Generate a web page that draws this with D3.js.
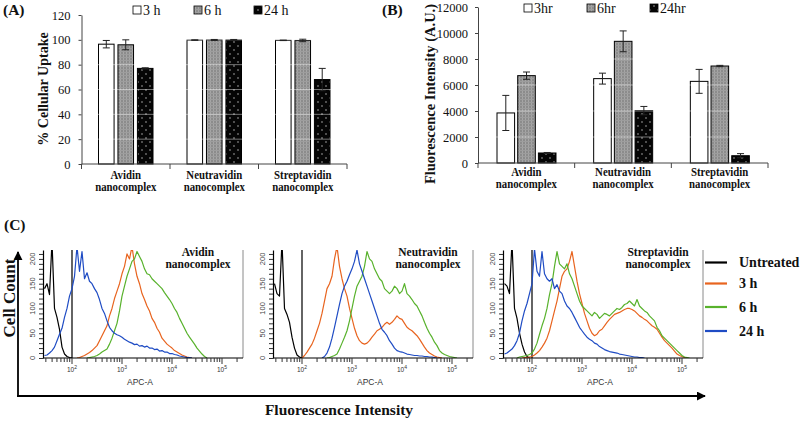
<!DOCTYPE html>
<html><head><meta charset="utf-8">
<script src="https://cdn.jsdelivr.net/npm/d3@7"></script>
<style>body{margin:0;background:#fff}svg{display:block}</style>
</head><body>
<svg id="c" width="800" height="421"></svg>
<script>
// ---------- Bar chart data ----------
const categories = ["Avidin", "Neutravidin", "Streptavidin"];
const uptakeSeries = ["3 h", "6 h", "24 h"];
const uptakeValues = [[96.5, 96, 77], [99.8, 99.9, 99.9], [99.6, 99.5, 68]];
const uptakeErrors = [[3, 4, 0.5], [0.2, 0.4, 0.4], [0.2, 1, 9]];
const uptakeTicks = [0, 20, 40, 60, 80, 100, 120];
const fluorSeries = ["3hr", "6hr", "24hr"];
const fluorValues = [[3850, 6720, 770], [6490, 9360, 4030], [6280, 7460, 560]];
const fluorErrors = [[1350, 280, 40], [420, 800, 320], [920, 50, 160]];
const fluorTicks = [0, 2000, 4000, 6000, 8000, 10000, 12000];

// ---------- Flow histogram data (log10 APC-A bins, step 0.05) ----------
const histPanels = ["Avidin", "Neutravidin", "Streptavidin"];
const histGroups = ["Untreated", "3 h", "6 h", "24 h"];
const histColors = ["#000000", "#e8641f", "#58b22c", "#1f4cc4"];
const histStep = 0.05;
const histYTicks = [0, 50, 100, 150, 200];
const histXTicks = [100, 1000, 10000, 100000];

const avidinUntreated = {start: 1.45, counts: [140, 150, 128, 235, 100, 82, 58, 22, 8, 3, 1, 0]};
const avidin3h = {start: 2.1, counts: [0, 1, 3, 5, 8, 11, 15, 20, 25, 35, 45, 55, 65, 85, 100, 120, 135, 150, 170, 185, 210, 200, 225, 190, 165, 150, 130, 118, 105, 95, 80, 72, 60, 52, 40, 34, 28, 24, 20, 15, 12, 9, 6, 4, 2, 1, 0]};
const avidin6h = {start: 2.3, counts: [0, 1, 2, 3, 5, 8, 12, 15, 18, 28, 40, 55, 70, 95, 125, 145, 165, 180, 195, 200, 215, 205, 195, 180, 170, 168, 160, 155, 150, 145, 140, 132, 125, 118, 110, 100, 92, 80, 70, 60, 50, 42, 35, 28, 20, 14, 8, 3, 0]};
const avidin24h = {start: 1.45, counts: [5, 6, 10, 15, 22, 35, 48, 60, 82, 100, 125, 140, 165, 225, 175, 215, 160, 172, 155, 150, 140, 132, 118, 100, 90, 75, 62, 55, 50, 47, 45, 42, 38, 35, 32, 30, 27, 28, 24, 25, 22, 24, 20, 20, 17, 18, 14, 15, 12, 12, 9, 9, 7, 6, 4, 3, 2, 1, 1, 0]};

const neutraUntreated = {start: 1.45, counts: [150, 130, 125, 235, 100, 88, 72, 42, 20, 6, 2, 0]};
const neutra3h = {start: 2.0, counts: [0, 5, 12, 20, 28, 40, 55, 70, 90, 115, 140, 150, 165, 200, 225, 185, 160, 140, 125, 100, 80, 60, 45, 35, 30, 28, 30, 35, 42, 48, 55, 58, 62, 68, 72, 68, 72, 78, 85, 80, 78, 70, 62, 58, 55, 50, 45, 38, 30, 22, 15, 10, 7, 4, 2, 1, 0]};
const neutra6h = {start: 2.5, counts: [0, 1, 3, 5, 8, 18, 30, 42, 55, 75, 100, 125, 145, 155, 165, 185, 215, 200, 195, 180, 170, 160, 155, 140, 135, 130, 135, 145, 140, 130, 135, 150, 130, 125, 118, 110, 105, 95, 85, 72, 60, 50, 42, 32, 25, 15, 10, 7, 5, 3, 2, 1, 0]};
const neutra24h = {start: 2.4, counts: [0, 3, 10, 22, 40, 62, 85, 108, 130, 145, 155, 168, 180, 195, 218, 190, 175, 160, 145, 130, 115, 100, 85, 70, 58, 52, 45, 35, 28, 20, 15, 13, 12, 10, 8, 7, 6, 5, 5, 4, 4, 3, 3, 2, 2, 1, 0]};

const streptUntreated = {start: 1.45, counts: [150, 145, 130, 235, 100, 80, 50, 28, 12, 3, 0]};
const strept3h = {start: 1.8, counts: [0, 1, 1, 2, 3, 6, 10, 15, 22, 30, 40, 55, 75, 95, 115, 140, 165, 175, 180, 195, 215, 185, 155, 130, 110, 90, 75, 60, 50, 45, 48, 55, 58, 65, 72, 78, 83, 88, 90, 92, 95, 98, 100, 100, 98, 95, 90, 85, 82, 78, 75, 70, 65, 62, 58, 50, 42, 35, 30, 25, 20, 14, 8, 5, 3, 1, 0]};
const strept6h = {start: 1.7, counts: [0, 2, 3, 4, 5, 7, 10, 18, 30, 48, 65, 80, 100, 128, 150, 185, 215, 190, 185, 180, 190, 170, 160, 145, 130, 115, 105, 100, 95, 90, 85, 92, 88, 80, 85, 90, 88, 85, 90, 95, 100, 98, 102, 108, 110, 115, 110, 105, 118, 105, 100, 95, 92, 85, 80, 75, 62, 55, 45, 40, 35, 30, 25, 20, 15, 10, 5, 2, 1, 0]};
const strept24h = {start: 1.45, counts: [8, 10, 14, 18, 25, 35, 50, 75, 95, 110, 130, 150, 220, 175, 165, 215, 170, 160, 155, 160, 140, 148, 135, 130, 115, 105, 100, 92, 82, 72, 62, 55, 48, 42, 38, 35, 30, 28, 23, 20, 17, 15, 13, 12, 11, 10, 8, 7, 6, 5, 4, 3, 2, 2, 1, 1, 0]};

const histData = [
  [avidinUntreated, avidin3h, avidin6h, avidin24h],
  [neutraUntreated, neutra3h, neutra6h, neutra24h],
  [streptUntreated, strept3h, strept6h, strept24h]
];

// ---------- Drawing ----------
const SERIF = "'Liberation Serif','Times New Roman',serif";
const SANS = "'Liberation Sans',Arial,sans-serif";
const svg = d3.select("#c");
svg.append("rect").attr("width", 800).attr("height", 421).attr("fill", "#fff");

const defs = svg.append("defs");
const p6 = defs.append("pattern").attr("id", "pat6").attr("width", 3).attr("height", 3).attr("patternUnits", "userSpaceOnUse");
p6.append("rect").attr("width", 3).attr("height", 3).attr("fill", "#8c8c8c");
p6.append("rect").attr("width", 1).attr("height", 3).attr("fill", "#a6a6a6");
p6.append("rect").attr("width", 3).attr("height", 1).attr("fill", "#9d9d9d");
const p24 = defs.append("pattern").attr("id", "pat24").attr("width", 8).attr("height", 8).attr("patternUnits", "userSpaceOnUse");
p24.append("rect").attr("width", 8).attr("height", 8).attr("fill", "#050505");
p24.append("circle").attr("cx", 2).attr("cy", 2).attr("r", 0.7).attr("fill", "#cfcfcf");
p24.append("circle").attr("cx", 6).attr("cy", 6).attr("r", 0.7).attr("fill", "#cfcfcf");
const barFills = ["#ffffff", "url(#pat6)", "url(#pat24)"];

function barPanel(cfg) {
  const g = svg.append("g");
  const x = d3.scaleBand().domain(categories).range(cfg.xr);
  const sub = d3.scaleBand().domain(cfg.series).range(cfg.subr).paddingInner(cfg.pad);
  const y = d3.scaleLinear().domain([0, cfg.ticks[cfg.ticks.length - 1]]).range(cfg.yr);

  categories.forEach((c, i) => {
    cfg.series.forEach((s, j) => {
      const v = cfg.values[i][j];
      g.append("rect")
        .attr("x", x(c) + sub(s)).attr("width", sub.bandwidth())
        .attr("y", y(v)).attr("height", y(0) - y(v))
        .attr("fill", barFills[j]).attr("stroke", "#000").attr("stroke-width", 1);
    });
  });
  cfg.ticks.slice(1).forEach(t => {
    g.append("line").attr("x1", cfg.xr[0]).attr("x2", cfg.xr[1]).attr("y1", y(t)).attr("y2", y(t))
      .attr("stroke", "#fff").attr("stroke-opacity", 0.45).attr("stroke-width", 1);
  });
  categories.forEach((c, i) => {
    cfg.series.forEach((s, j) => {
      const v = cfg.values[i][j], e = cfg.errors[i][j];
      const cx = x(c) + sub(s) + sub.bandwidth() / 2;
      const eg = g.append("g").attr("stroke", "#222").attr("stroke-width", 1);
      eg.append("line").attr("x1", cx).attr("x2", cx).attr("y1", y(v - e)).attr("y2", y(v + e));
      eg.append("line").attr("x1", cx - 3.5).attr("x2", cx + 3.5).attr("y1", y(v + e)).attr("y2", y(v + e));
      eg.append("line").attr("x1", cx - 3.5).attr("x2", cx + 3.5).attr("y1", y(v - e)).attr("y2", y(v - e));
    });
  });
  const ya = g.append("g").attr("transform", `translate(${cfg.xr[0]},0)`)
    .call(d3.axisLeft(y).tickValues(cfg.ticks).tickSize(3).tickSizeOuter(0).tickPadding(cfg.tickPad).tickFormat(d3.format("d")));
  ya.selectAll("text").attr("font-family", SERIF).attr("font-size", 12.5).attr("fill", "#111");
  ya.select(".domain").attr("stroke", "#444");
  ya.selectAll(".tick line").attr("stroke", "#444");
  const xa = g.append("g").attr("transform", `translate(0,${cfg.yr[0]})`);
  xa.append("line").attr("x1", cfg.xr[0]).attr("x2", cfg.xr[1]).attr("stroke", "#444");
  const bounds = [cfg.xr[0]].concat(categories.map(c => x(c) + x.bandwidth()));
  bounds.forEach(b => xa.append("line").attr("x1", b).attr("x2", b).attr("y1", 0).attr("y2", 5).attr("stroke", "#444"));
  categories.forEach(c => {
    const cx = x(c) + x.bandwidth() / 2;
    const lg = g.append("g").attr("transform", `translate(${cx},0) scale(0.9,1)`);
    const t = lg.append("text").attr("text-anchor", "middle")
      .attr("font-family", SERIF).attr("font-weight", "bold").attr("font-size", 12).attr("fill", "#111");
    t.append("tspan").attr("x", 0).attr("y", cfg.labY[0]).text(c);
    t.append("tspan").attr("x", 0).attr("y", cfg.labY[1]).text("nanocomplex");
  });
  g.append("text").attr("transform", `translate(${cfg.ylabX},${cfg.ylabY}) rotate(-90)`)
    .attr("text-anchor", "middle").attr("dy", "0.35em")
    .attr("font-family", SERIF).attr("font-weight", "bold").attr("font-size", cfg.ylabSize).attr("fill", "#111")
    .text(cfg.ylabel);
  cfg.series.forEach((s, j) => {
    g.append("rect").attr("x", cfg.legX[j]).attr("y", cfg.legY - 4).attr("width", 8).attr("height", 8)
      .attr("fill", barFills[j]).attr("stroke", "#000").attr("stroke-width", 0.8);
    g.append("text").attr("x", cfg.legX[j] + 10).attr("y", cfg.legY).attr("dy", "0.35em")
      .attr("font-family", SERIF).attr("font-size", 14).attr("fill", "#111").text(s);
  });
  g.append("text").attr("x", cfg.letterX).attr("y", 15).attr("font-family", SERIF).attr("font-weight", "bold")
    .attr("font-size", 15.5).attr("fill", "#111").text(cfg.letter);
}

barPanel({xr: [81.5, 347], subr: [17, 71.5], pad: 0.2, yr: [164, 15], ticks: uptakeTicks,
  values: uptakeValues, errors: uptakeErrors, series: uptakeSeries, tickPad: 8,
  labY: [179, 191], ylabX: 43.5, ylabY: 89, ylabSize: 14, ylabel: "% Cellular Uptake",
  legX: [133, 194, 254], legY: 10, letter: "(A)", letterX: 3});

barPanel({xr: [478, 768], subr: [19, 78], pad: 0.15, yr: [163, 7], ticks: fluorTicks,
  values: fluorValues, errors: fluorErrors, series: fluorSeries, tickPad: 7,
  labY: [176, 188], ylabX: 430, ylabY: 94, ylabSize: 14.5, ylabel: "Fluorescence Intensity (A.U.)",
  legX: [524, 587, 650], legY: 8, letter: "(B)", letterX: 382});

// ---------- Panel C ----------
const gc = svg.append("g");
gc.append("text").attr("x", 4).attr("y", 230).attr("font-family", SERIF).attr("font-weight", "bold")
  .attr("font-size", 15.5).attr("fill", "#111").text("(C)");

const logMin = 1.42, logMax = 5.42;
histPanels.forEach((name, i) => {
  const x0 = 43 + 230 * i;
  const g = gc.append("g");
  const x = d3.scaleLog().domain([Math.pow(10, logMin), Math.pow(10, logMax)]).range([x0, x0 + 200]);
  const y = d3.scaleLinear().domain([0, 218]).range([358, 250]);
  const clipId = "clip" + i;
  defs.append("clipPath").attr("id", clipId).append("rect")
    .attr("x", x0).attr("y", 250).attr("width", 200).attr("height", 108);

  g.append("line").attr("x1", x0 + 200).attr("x2", x0 + 200).attr("y1", 250).attr("y2", 358)
    .attr("stroke", "#8a8a8a").attr("stroke-width", 1);
  g.append("line").attr("x1", x(100)).attr("x2", x(100)).attr("y1", 250).attr("y2", 358)
    .attr("stroke", "#111").attr("stroke-width", 1.3);

  const line = d3.line().x(d => x(Math.pow(10, d[0]))).y(d => y(d[1]));
  const cg = g.append("g").attr("clip-path", `url(#${clipId})`);
  histData[i].forEach((curve, k) => {
    const pts = curve.counts.map((c, j) => [curve.start + j * histStep, c]);
    cg.append("path").attr("d", line(pts)).attr("fill", "none")
      .attr("stroke", histColors[k]).attr("stroke-width", 1.2).attr("stroke-linejoin", "round");
  });

  const ya = g.append("g").attr("transform", `translate(${x0},0)`);
  ya.call(d3.axisLeft(y).tickValues(d3.range(0, 211, 10)).tickSize(4).tickSizeOuter(0).tickFormat(""));
  ya.select(".domain").attr("stroke", "#000").attr("stroke-width", 1.2);
  ya.selectAll(".tick line").attr("stroke", "#333");
  histYTicks.forEach(t => {
    ya.append("text").attr("transform", `translate(-8,${y(t)}) rotate(-90)`).attr("text-anchor", "middle")
      .attr("font-family", SANS).attr("font-size", 7.5).attr("fill", "#444").text(t);
  });
  const minorTicks = [];
  for (let d = 1; d <= 5; d++) for (let m = 1; m <= 9; m++) {
    const v = m * Math.pow(10, d);
    if (Math.log10(v) >= logMin && Math.log10(v) <= logMax) minorTicks.push(v);
  }
  const xa = g.append("g").attr("transform", "translate(0,358)");
  xa.append("line").attr("x1", x0).attr("x2", x0 + 200).attr("stroke", "#000").attr("stroke-width", 1.2);
  minorTicks.forEach(v => {
    const major = histXTicks.includes(v);
    xa.append("line").attr("x1", x(v)).attr("x2", x(v)).attr("y1", 0).attr("y2", major ? 6 : 4)
      .attr("stroke", "#333").attr("stroke-width", 1);
  });
  histXTicks.forEach(v => {
    const t = g.append("text").attr("x", x(v)).attr("y", 372).attr("text-anchor", "middle")
      .attr("font-family", SANS).attr("font-size", 6.5).attr("fill", "#333");
    t.append("tspan").text("10");
    t.append("tspan").attr("dy", -3).attr("font-size", 5).text(Math.round(Math.log10(v)));
  });
  g.append("text").attr("x", x0 + 97).attr("y", 385).attr("text-anchor", "middle")
    .attr("font-family", SANS).attr("font-size", 8.5).attr("fill", "#333").text("APC-A");

  const tt = g.append("text").attr("text-anchor", "middle").attr("font-family", SERIF)
    .attr("font-weight", "bold").attr("font-size", 11.5).attr("fill", "#111");
  tt.append("tspan").attr("x", x0 + 155).attr("y", 256).text(name);
  tt.append("tspan").attr("x", x0 + 155).attr("y", 268).text("nanocomplex");
});

const legYs = [262.5, 283.5, 307, 331];
histGroups.forEach((grp, k) => {
  gc.append("line").attr("x1", 705).attr("x2", 727).attr("y1", legYs[k]).attr("y2", legYs[k])
    .attr("stroke", histColors[k]).attr("stroke-width", 2.2);
  gc.append("text").attr("x", 739).attr("y", legYs[k]).attr("dy", "0.35em")
    .attr("font-family", SERIF).attr("font-weight", "bold").attr("font-size", 14).attr("fill", "#111").text(grp);
});

defs.append("marker").attr("id", "arrow").attr("viewBox", "0 0 10 10").attr("refX", 9).attr("refY", 5)
  .attr("markerWidth", 5).attr("markerHeight", 5).attr("orient", "auto")
  .append("path").attr("d", "M0,0 L10,5 L0,10 z").attr("fill", "#000");
gc.append("line").attr("x1", 18).attr("x2", 18).attr("y1", 396).attr("y2", 252)
  .attr("stroke", "#000").attr("stroke-width", 1.8).attr("marker-end", "url(#arrow)");
gc.append("line").attr("x1", 17).attr("x2", 705).attr("y1", 396).attr("y2", 396)
  .attr("stroke", "#000").attr("stroke-width", 1.8).attr("marker-end", "url(#arrow)");
gc.append("text").attr("transform", "translate(9,298) rotate(-90)").attr("text-anchor", "middle")
  .attr("dy", "0.35em").attr("font-family", SERIF).attr("font-weight", "bold").attr("font-size", 17)
  .attr("fill", "#111").text("Cell Count");
gc.append("text").attr("x", 339).attr("y", 415).attr("text-anchor", "middle")
  .attr("font-family", SERIF).attr("font-weight", "bold").attr("font-size", 15.5)
  .attr("fill", "#111").text("Fluorescence Intensity");
</script>
</body></html>
